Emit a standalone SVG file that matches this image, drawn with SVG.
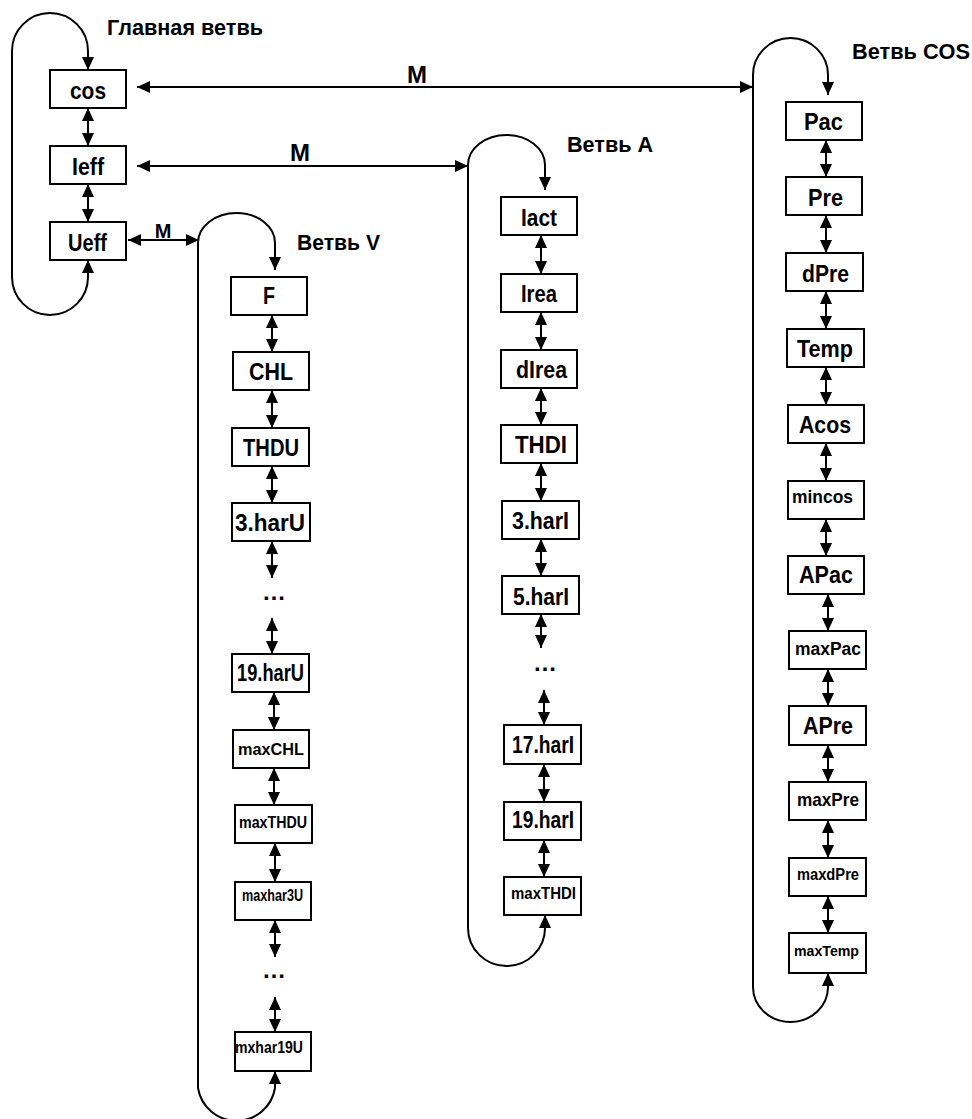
<svg xmlns="http://www.w3.org/2000/svg" width="972" height="1119" viewBox="0 0 972 1119">
<defs>
<marker id="ah" markerUnits="userSpaceOnUse" markerWidth="13" markerHeight="12" viewBox="0 0 13 12" refX="13" refY="6" orient="auto-start-reverse">
<path d="M0,0 L13,6 L0,12 z" fill="#000"/>
</marker>
<style>
.box{fill:#fff;stroke:#000;stroke-width:2}
.t{font-family:"Liberation Sans",Arial,sans-serif;font-weight:bold;fill:#000}
.b{font-size:24px}
.m{font-size:18px}
.s{font-size:16px}
.h{font-size:22px}
.c{fill:none;stroke:#000;stroke-width:2}
.a{fill:none;stroke:#000;stroke-width:2;marker-start:url(#ah);marker-end:url(#ah)}
.e{fill:none;stroke:#000;stroke-width:2;marker-end:url(#ah)}
</style>
</defs>
<rect width="972" height="1119" fill="#fff"/>

<g id="connectors">
<path class="a" d="M88,260 V277 A38,38 0 0 1 12,277 V51 A38,38 0 0 1 88,51 V70"/>
<path class="a" d="M275,1071 V1088 A39,39 0 0 1 198,1088 V243 A38.5,30 0 0 1 275,243 V270"/>
<path class="a" d="M545,915 V928 A38.5,38 0 0 1 468,928 V165 A38.5,30 0 0 1 545,165 V190"/>
<path class="a" d="M828,973 V987 A37.5,35 0 0 1 753,987 V75 A37.5,37 0 0 1 828,75 V95"/>
<path class="a" d="M137,87 H753"/>
<path class="a" d="M137,166 H468"/>
<path class="a" d="M128,240 H199"/>
<path class="a" d="M88,108 V146"/>
<path class="a" d="M88,184 V222"/>
<path class="a" d="M272,315 V352"/>
<path class="a" d="M272,390 V428"/>
<path class="a" d="M272,466 V503"/>
<path class="a" d="M272,541 V578"/>
<path class="a" d="M272,618 V654"/>
<path class="a" d="M274,692 V730"/>
<path class="a" d="M274,768 V805"/>
<path class="a" d="M275,843 V882"/>
<path class="a" d="M275,920 V957"/>
<path class="a" d="M275,997 V1032"/>
<path class="a" d="M541,235 V274"/>
<path class="a" d="M541,312 V350"/>
<path class="a" d="M541,388 V425"/>
<path class="a" d="M541,463 V501"/>
<path class="a" d="M541,539 V576"/>
<path class="a" d="M541,614 V648"/>
<path class="a" d="M544,690 V725"/>
<path class="a" d="M544,764 V802"/>
<path class="a" d="M544,840 V877"/>
<path class="a" d="M826,140 V177"/>
<path class="a" d="M826,215 V253"/>
<path class="a" d="M826,291 V329"/>
<path class="a" d="M826,367 V405"/>
<path class="a" d="M826,443 V481"/>
<path class="a" d="M826,519 V556"/>
<path class="a" d="M828,594 V631"/>
<path class="a" d="M828,669 V706"/>
<path class="a" d="M828,745 V782"/>
<path class="a" d="M828,820 V858"/>
<path class="a" d="M828,896 V933"/>
<text class="t b" x="417" y="83" text-anchor="middle">M</text>
<text class="t b" x="300" y="161" text-anchor="middle">M</text>
<text class="t" style="font-size:20px" x="163" y="238" text-anchor="middle">M</text>
</g>

<g id="titles">
<text class="t h" x="107" y="35" textLength="156" lengthAdjust="spacingAndGlyphs">Главная ветвь</text>
<text class="t h" x="297" y="250" textLength="83" lengthAdjust="spacingAndGlyphs">Ветвь V</text>
<text class="t h" x="567" y="152" textLength="86" lengthAdjust="spacingAndGlyphs">Ветвь A</text>
<text class="t h" x="852" y="59" textLength="118" lengthAdjust="spacingAndGlyphs">Ветвь COS</text>
</g>

<g id="dots">
<text class="t b" x="274" y="600" text-anchor="middle">…</text>
<text class="t b" x="274" y="978" text-anchor="middle">…</text>
<text class="t b" x="545" y="671" text-anchor="middle">…</text>
</g>

<g id="n-cos"><rect class="box" x="50" y="70" width="76" height="38"/><text class="t b" x="70" y="99" textLength="36" lengthAdjust="spacingAndGlyphs">cos</text></g>
<g id="n-Ieff"><rect class="box" x="50" y="146" width="76" height="38"/><text class="t b" x="72" y="175" textLength="32" lengthAdjust="spacingAndGlyphs">Ieff</text></g>
<g id="n-Ueff"><rect class="box" x="50" y="222" width="76" height="38"/><text class="t b" x="68" y="251" textLength="39" lengthAdjust="spacingAndGlyphs">Ueff</text></g>

<g id="n-F"><rect class="box" x="231" y="277" width="76" height="38"/><text class="t b" x="263" y="304" textLength="12" lengthAdjust="spacingAndGlyphs">F</text></g>
<g id="n-CHL"><rect class="box" x="233" y="352" width="76" height="38"/><text class="t b" x="249" y="380" textLength="44" lengthAdjust="spacingAndGlyphs">CHL</text></g>
<g id="n-THDU"><rect class="box" x="232" y="428" width="77" height="38"/><text class="t b" x="243" y="456" textLength="56" lengthAdjust="spacingAndGlyphs">THDU</text></g>
<g id="n-3harU"><rect class="box" x="232" y="503" width="78" height="38"/><text class="t b" x="235" y="531" textLength="70" lengthAdjust="spacingAndGlyphs">3.harU</text></g>
<g id="n-19harU"><rect class="box" x="232" y="654" width="77" height="38"/><text class="t b" x="237" y="681" textLength="67" lengthAdjust="spacingAndGlyphs">19.harU</text></g>
<g id="n-maxCHL"><rect class="box" x="233" y="730" width="76" height="38"/><text class="t" style="font-size:17px" x="238" y="755" textLength="66" lengthAdjust="spacingAndGlyphs">maxCHL</text></g>
<g id="n-maxTHDU"><rect class="box" x="235" y="805" width="77" height="38"/><text class="t s" x="239" y="828" textLength="68" lengthAdjust="spacingAndGlyphs">maxTHDU</text></g>
<g id="n-maxhar3U"><rect class="box" x="235" y="882" width="76" height="38"/><text class="t s" x="242" y="901" textLength="61" lengthAdjust="spacingAndGlyphs">maxhar3U</text></g>
<g id="n-mxhar19U"><rect class="box" x="235" y="1032" width="76" height="39"/><text class="t s" x="235" y="1053" textLength="68" lengthAdjust="spacingAndGlyphs">mxhar19U</text></g>

<g id="n-Iact"><rect class="box" x="501" y="197" width="76" height="38"/><text class="t b" x="521" y="226" textLength="36" lengthAdjust="spacingAndGlyphs">Iact</text></g>
<g id="n-Irea"><rect class="box" x="501" y="274" width="76" height="38"/><text class="t b" x="521" y="302" textLength="36" lengthAdjust="spacingAndGlyphs">Irea</text></g>
<g id="n-dIrea"><rect class="box" x="501" y="350" width="76" height="38"/><text class="t b" x="516" y="378" textLength="51" lengthAdjust="spacingAndGlyphs">dIrea</text></g>
<g id="n-THDI"><rect class="box" x="501" y="425" width="76" height="38"/><text class="t b" x="515" y="453" textLength="52" lengthAdjust="spacingAndGlyphs">THDI</text></g>
<g id="n-3harI"><rect class="box" x="502" y="501" width="77" height="38"/><text class="t b" x="512" y="529" textLength="57" lengthAdjust="spacingAndGlyphs">3.harI</text></g>
<g id="n-5harI"><rect class="box" x="502" y="576" width="77" height="38"/><text class="t b" x="513" y="605" textLength="56" lengthAdjust="spacingAndGlyphs">5.harI</text></g>
<g id="n-17harI"><rect class="box" x="504" y="725" width="77" height="39"/><text class="t b" x="512" y="753" textLength="62" lengthAdjust="spacingAndGlyphs">17.harI</text></g>
<g id="n-19harI"><rect class="box" x="504" y="802" width="77" height="38"/><text class="t b" x="512" y="828" textLength="62" lengthAdjust="spacingAndGlyphs">19.harI</text></g>
<g id="n-maxTHDI"><rect class="box" x="504" y="877" width="77" height="38"/><text class="t s" x="511" y="899" textLength="65" lengthAdjust="spacingAndGlyphs">maxTHDI</text></g>

<g id="n-Pac"><rect class="box" x="786" y="102" width="76" height="38"/><text class="t b" x="804" y="130" textLength="39" lengthAdjust="spacingAndGlyphs">Pac</text></g>
<g id="n-Pre"><rect class="box" x="786" y="177" width="76" height="38"/><text class="t b" x="808" y="206" textLength="35" lengthAdjust="spacingAndGlyphs">Pre</text></g>
<g id="n-dPre"><rect class="box" x="786" y="253" width="77" height="38"/><text class="t b" x="802" y="282" textLength="47" lengthAdjust="spacingAndGlyphs">dPre</text></g>
<g id="n-Temp"><rect class="box" x="787" y="329" width="77" height="38"/><text class="t b" x="797" y="357" textLength="56" lengthAdjust="spacingAndGlyphs">Temp</text></g>
<g id="n-Acos"><rect class="box" x="788" y="405" width="76" height="38"/><text class="t b" x="799" y="433" textLength="52" lengthAdjust="spacingAndGlyphs">Acos</text></g>
<g id="n-mincos"><rect class="box" x="788" y="481" width="76" height="38"/><text class="t m" x="792" y="503" textLength="61" lengthAdjust="spacingAndGlyphs">mincos</text></g>
<g id="n-APac"><rect class="box" x="788" y="556" width="76" height="38"/><text class="t b" x="799" y="583" textLength="54" lengthAdjust="spacingAndGlyphs">APac</text></g>
<g id="n-maxPac"><rect class="box" x="789" y="631" width="77" height="38"/><text class="t m" x="795" y="655" textLength="66" lengthAdjust="spacingAndGlyphs">maxPac</text></g>
<g id="n-APre"><rect class="box" x="789" y="706" width="77" height="39"/><text class="t b" x="803" y="734" textLength="50" lengthAdjust="spacingAndGlyphs">APre</text></g>
<g id="n-maxPre"><rect class="box" x="789" y="782" width="77" height="38"/><text class="t" style="font-size:19px" x="797" y="806" textLength="62" lengthAdjust="spacingAndGlyphs">maxPre</text></g>
<g id="n-maxdPre"><rect class="box" x="789" y="858" width="77" height="38"/><text class="t s" x="797" y="880" textLength="62" lengthAdjust="spacingAndGlyphs">maxdPre</text></g>
<g id="n-maxTemp"><rect class="box" x="789" y="933" width="77" height="40"/><text class="t" style="font-size:15px" x="794" y="956" textLength="65" lengthAdjust="spacingAndGlyphs">maxTemp</text></g>
</svg>
